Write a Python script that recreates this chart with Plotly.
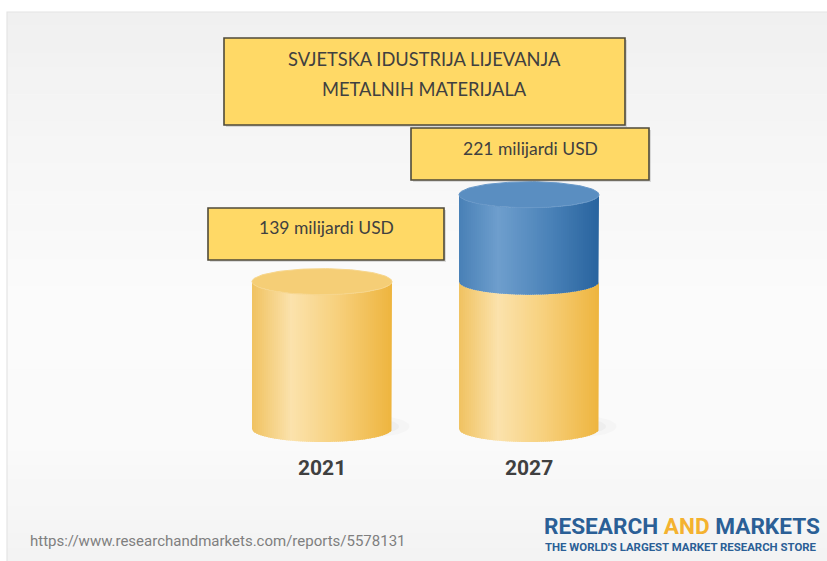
import numpy as np
import plotly.graph_objects as go

# ---------------- data ----------------
years = ["2021", "2027"]
values = [139, 221]                 # milijardi USD
value_labels = ["139 milijardi USD", "221 milijardi USD"]
title_lines = ["SVJETSKA IDUSTRIJA LIJEVANJA", "METALNIH MATERIJALA"]
source_url = "https://www.researchandmarkets.com/reports/5578131"

# ---------------- geometry / style ----------------
W, H = 827, 561
X_CENTER_PX = [322, 529]
PX_PER_X = X_CENTER_PX[1] - X_CENTER_PX[0]
Y0_PX = 429          # pixel row of value 0
PX_PER_Y = 1.06
HALF_W = 70 / PX_PER_X
ELL_B = 13 / PX_PER_Y
NSTRIPS = 70

xr = [-X_CENTER_PX[0] / PX_PER_X, (W - X_CENTER_PX[0]) / PX_PER_X]
yr = [-(H - Y0_PX) / PX_PER_Y, Y0_PX / PX_PER_Y]

yellow_stops = [(0.0, (240, 194, 96)), (0.28, (251, 226, 172)), (0.6, (247, 209, 126)), (1.0, (238, 180, 62))]
blue_stops = [(0.0, (72, 128, 182)), (0.28, (110, 158, 205)), (0.65, (74, 130, 184)), (1.0, (40, 99, 158))]


def grad(stops, t):
    for (t0, c0), (t1, c1) in zip(stops[:-1], stops[1:]):
        if t <= t1:
            f = (t - t0) / (t1 - t0) if t1 > t0 else 0
            c = [round(a + (b - a) * f) for a, b in zip(c0, c1)]
            return "rgb(%d,%d,%d)" % tuple(c)
    return "rgb(%d,%d,%d)" % stops[-1][1]


fig = go.Figure()


def lower_arc(xs, xc, yc):
    return yc - ELL_B * np.sqrt(np.clip(1 - ((xs - xc) / HALF_W) ** 2, 0, 1))


def body(xc, y_lo, y_hi, stops):
    edges = np.linspace(xc - HALF_W, xc + HALF_W, NSTRIPS + 1)
    for i in range(NSTRIPS):
        a, b = edges[i], min(edges[i + 1] + (edges[1] - edges[0]) * 0.6, xc + HALF_W)
        xs = np.linspace(a, b, 4)
        lo = lower_arc(xs, xc, y_lo)
        hi = lower_arc(xs, xc, y_hi)
        px = list(xs) + list(xs[::-1])
        py = list(hi) + list(lo[::-1])
        t = (i + 0.5) / NSTRIPS
        fig.add_trace(go.Scatter(x=px, y=py, fill="toself", mode="lines",
                                 line=dict(width=0), fillcolor=grad(stops, t),
                                 hoverinfo="skip", showlegend=False))


def top(xc, yc, color, rim):
    th = np.linspace(0, 2 * np.pi, 121)
    fig.add_trace(go.Scatter(x=xc + HALF_W * np.cos(th), y=yc + ELL_B * np.sin(th),
                             fill="toself", mode="lines", line=dict(width=1, color=rim),
                             fillcolor=color, hoverinfo="skip", showlegend=False))


def shadow(xc):
    th = np.linspace(0, 2 * np.pi, 61)
    for k, alpha in [(1.0, 0.04), (0.7, 0.05), (0.45, 0.06)]:
        fig.add_trace(go.Scatter(x=xc + HALF_W * 0.75 + HALF_W * 0.5 * k * np.cos(th),
                                 y=ELL_B * 0.2 + ELL_B * 0.8 * k * np.sin(th),
                                 fill="toself", mode="lines", line=dict(width=0),
                                 fillcolor="rgba(120,120,120,%.2f)" % alpha,
                                 hoverinfo="skip", showlegend=False))


for i, (yr_label, v) in enumerate(zip(years, values)):
    xc = float(i)
    shadow(xc)
    if i == 0:
        body(xc, 0, v, yellow_stops)
        top(xc, v, "rgb(245,206,118)", "rgb(247,214,140)")
    else:
        base = values[0]
        body(xc, 0, base, yellow_stops)
        body(xc, base, v, blue_stops)
        top(xc, v, "rgb(90,142,193)", "rgb(104,152,200)")

# ---------------- background shapes (soft vertical gradient panel) ----------------
shapes = []
grad_keys = [(12, 240), (150, 246), (300, 251), (440, 250), (561, 243)]
NB = 40
ys = np.linspace(12, H, NB + 1)
for j in range(NB):
    ym = 0.5 * (ys[j] + ys[j + 1])
    g = int(round(np.interp(ym, [k[0] for k in grad_keys], [k[1] for k in grad_keys])))
    shapes.append(dict(type="rect", xref="paper", yref="paper", layer="below",
                       x0=7 / W, x1=1, y0=1 - (ys[j + 1] + 0.5) / H, y1=1 - ys[j] / H,
                       fillcolor="rgb(%d,%d,%d)" % (g, g, g), line=dict(width=0)))
shapes.append(dict(type="rect", xref="paper", yref="paper", layer="below",
                   x0=7 / W, x1=1.01, y0=-0.01, y1=1 - 12 / H,
                   fillcolor="rgba(0,0,0,0)", line=dict(width=1.2, color="#e4e4e4")))


def box(x0p, y0p, x1p, y1p):
    shapes.append(dict(type="rect", xref="paper", yref="paper",
                       x0=(x0p + 2) / W, x1=(x1p + 2) / W, y0=1 - (y1p + 2) / H, y1=1 - (y0p + 2) / H,
                       fillcolor="rgba(0,0,0,0.12)", line=dict(width=0)))
    shapes.append(dict(type="rect", xref="paper", yref="paper",
                       x0=x0p / W, x1=x1p / W, y0=1 - y1p / H, y1=1 - y0p / H,
                       fillcolor="#ffd966", line=dict(width=1.6, color="#4f4a3a")))


box(224, 38, 625, 125)
box(208, 208, 444, 260)
box(411, 128, 649, 180)

annotations = []


def txt(text, xp, yp, size, color, family, xanchor="center", bold=False):
    annotations.append(dict(text=("<b>%s</b>" % text) if bold else text,
                            xref="paper", yref="paper", x=xp / W, y=1 - yp / H,
                            xanchor=xanchor, yanchor="middle", showarrow=False,
                            font=dict(size=size, color=color, family=family)))


txt(title_lines[0], 424, 59, 18.3, "#404040", "Lato")
txt(title_lines[1], 424, 89, 18.3, "#404040", "Lato")
txt(value_labels[0], 326, 227, 17.5, "#404040", "Lato")
txt(value_labels[1], 530, 148, 17.5, "#404040", "Lato")

# year labels through the data x axis
for i, y in enumerate(years):
    annotations.append(dict(text="<b>%s</b>" % y, x=i, xref="x", y=1 - 468 / H, yref="paper",
                            showarrow=False, yanchor="middle",
                            font=dict(size=21, color="#404040", family="Roboto")))

txt(source_url, 28, 541, 15, "#7f7f7f", "Roboto", xanchor="left")
annotations.append(dict(text='<b>RESEARCH <span style="color:#f4b22f">AND</span> MARKETS</b>',
                        xref="paper", yref="paper", x=542 / W, y=1 - 526 / H,
                        xanchor="left", yanchor="middle", showarrow=False,
                        font=dict(size=22.6, color="#2b5f96", family="Roboto")))
txt("THE WORLD'S LARGEST MARKET RESEARCH STORE", 543, 547, 11.4, "#2b5f96", "Roboto",
    xanchor="left", bold=True)

fig.update_layout(
    width=W, height=H, margin=dict(l=0, r=0, t=0, b=0),
    paper_bgcolor="white", plot_bgcolor="rgba(0,0,0,0)",
    xaxis=dict(range=xr, visible=False, fixedrange=True),
    yaxis=dict(range=yr, visible=False, fixedrange=True),
    shapes=shapes, annotations=annotations, showlegend=False,
)

fig.write_html("out.html", config={"displayModeBar": False},
               post_script="document.body.style.margin='0';document.body.style.overflow='hidden';")
